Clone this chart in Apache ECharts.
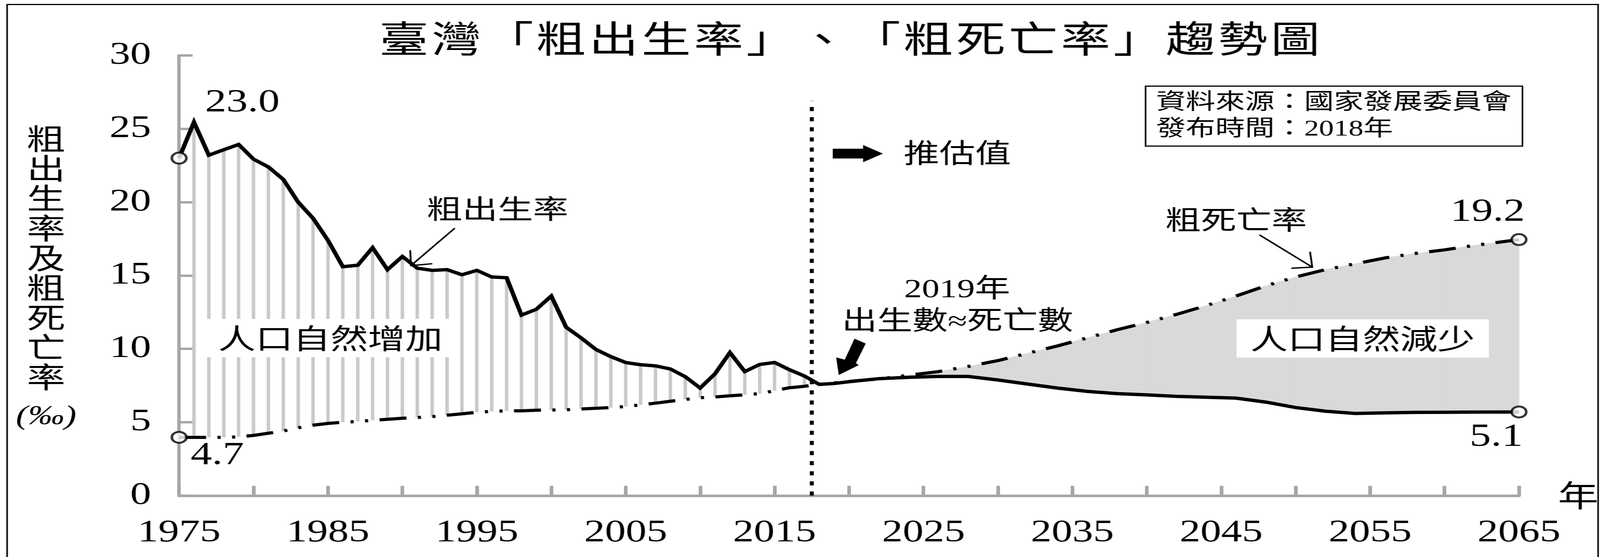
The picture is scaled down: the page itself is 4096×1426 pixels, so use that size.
<!DOCTYPE html>
<html>
<head>
<meta charset="utf-8">
<script src="https://cdn.jsdelivr.net/npm/echarts@6/dist/echarts.min.js"></script>
<style>
html,body{margin:0;padding:0;background:#fff;overflow:hidden;width:4096px;height:1426px;}
#chart{width:3080px;height:1426px;transform:scaleX(1.32987);transform-origin:0 0;}
</style>
</head>
<body>
<div id="chart"></div>
<script>
// ---------- data ----------
const histYears = [1975,1976,1977,1978,1979,1980,1981,1982,1983,1984,1985,1986,1987,1988,1989,1990,1991,1992,1993,1994,1995,1996,1997,1998,1999,2000,2001,2002,2003,2004,2005,2006,2007,2008,2009,2010,2011,2012,2013,2014,2015,2016,2017,2018];
const histBirth = [23.0,25.45,23.2,23.57,23.93,22.93,22.4,21.55,20.0,18.9,17.4,15.6,15.7,16.9,15.4,16.3,15.5,15.35,15.4,15.05,15.35,14.9,14.85,12.3,12.7,13.6,11.47,10.75,9.96,9.47,9.07,8.92,8.84,8.63,8.1,7.33,8.3,9.75,8.45,8.94,9.07,8.58,8.15,7.58];
const histDeath = [3.97,3.97,3.97,3.97,4.0,4.1,4.25,4.4,4.62,4.8,4.92,5.0,5.05,5.13,5.2,5.27,5.32,5.38,5.48,5.57,5.68,5.74,5.77,5.78,5.82,5.83,5.85,5.9,5.95,6.0,6.07,6.18,6.3,6.43,6.55,6.67,6.72,6.8,6.87,6.95,7.15,7.35,7.45,7.58];
const projYears = [2018,2019,2020,2022,2024,2026,2028,2030,2032,2034,2036,2038,2040,2042,2044,2046,2048,2050,2052,2054,2056,2058,2060,2062,2065];
const projBirth = [7.58,7.64,7.76,7.97,8.06,8.12,8.12,7.88,7.6,7.33,7.1,6.95,6.86,6.76,6.7,6.64,6.37,6.0,5.75,5.6,5.64,5.67,5.68,5.69,5.7];
const projDeath = [7.58,7.68,7.78,7.95,8.2,8.45,8.8,9.2,9.7,10.2,10.75,11.3,11.8,12.35,12.95,13.6,14.3,14.9,15.4,15.8,16.2,16.5,16.75,17.05,17.45];
const xLabelYears = [1975,1985,1995,2005,2015,2025,2035,2045,2055,2065];
const yTickValues = [0,5,10,15,20,25,30];
const projBoundaryYear = 2017.5;
const projBoundaryTop = 26.9;
const endLabels = {birthStart:'23.0', deathStart:'4.7', deathEnd:'19.2', birthEnd:'5.1'};
const titleText = '臺灣「粗出生率」、「粗死亡率」趨勢圖';
const yNameChars = ['粗','出','生','率','及','粗','死','亡','率'];

// ---------- layout helpers ----------
const KX = 0.959 / (4096 / 3080);
const KY = 0.959;
const P = (x, y) => [x * KX, y * KY];
const SERIF = '"Liberation Serif", "Noto Sans CJK TC", serif';
const CJK = '"Noto Sans CJK TC", sans-serif';
function txt(t, x, y, size, family, extra) {
  return {type:'text', x:x*KX, y:y*KY, z:20, silent:true,
    style:Object.assign({text:t, fontSize:size, fontFamily:family, fill:'#000', align:'center', verticalAlign:'middle'}, extra || {})};
}
const pts = arr => arr.map(p => P(p[0], p[1]));

// ---------- derived series data ----------
const yearsAll = histYears.concat(projYears.slice(1));
const birthAll = histBirth.concat(projBirth.slice(1));
const deathAll = histDeath.concat(projDeath.slice(1));
const stripeData = histYears.slice(1, -1).map((y, i) => [y, histDeath[i + 1], histBirth[i + 1]]);
const areaData = projYears.slice(0, -1).map((y, i) => [y, projBirth[i], projDeath[i], projYears[i + 1], projBirth[i + 1], projDeath[i + 1]]);
const lastI = yearsAll.length - 1;

const chart = echarts.init(document.getElementById('chart'), null, {renderer:'canvas'});
chart.setOption({
  animation:false,
  backgroundColor:'#fff',
  grid:{left:478*KX, right:3080 - 4062*KX, top:148*KY, bottom:1426 - 1323*KY, containLabel:false},
  xAxis:{
    type:'value', min:1975, max:2065, interval:5,
    name:'年', nameLocation:'end', nameGap:75,
    nameTextStyle:{fontSize:78, fontFamily:CJK, color:'#000', verticalAlign:'middle', align:'left'},
    axisLine:{show:true, lineStyle:{color:'#a6a6a6', width:6.5}},
    axisTick:{show:true, inside:true, length:25, lineStyle:{color:'#a6a6a6', width:7}},
    splitLine:{show:false},
    axisLabel:{margin:56, fontSize:80, fontFamily:SERIF, color:'#000', showMinLabel:true, showMaxLabel:true,
      formatter:v => xLabelYears.indexOf(v) >= 0 ? String(v) : ''}
  },
  yAxis:{
    type:'value', min:0, max:30, interval:5,
    axisLine:{show:true, lineStyle:{color:'#a6a6a6', width:6.5}},
    axisTick:{show:true, inside:true, length:26, lineStyle:{color:'#a6a6a6', width:6}},
    splitLine:{show:false},
    axisLabel:{margin:54, fontSize:80, fontFamily:SERIF, color:'#000',
      formatter:v => yTickValues.indexOf(v) >= 0 ? String(v) : ''}
  },
  series:[
    {type:'custom', data:stripeData, encode:{x:0, y:[1,2]}, silent:true, z:1, clip:false,
      renderItem:(params, api) => {
        const x = api.value(0);
        const lo = api.coord([x, api.value(1)]);
        const hi = api.coord([x, api.value(2)]);
        const w = 6.6;
        return {type:'rect', shape:{x:lo[0] - w/2, y:hi[1], width:w, height:lo[1] - hi[1]}, style:{fill:'#c9c9c9'}};
      }},
    {type:'custom', data:areaData, encode:{x:[0,3], y:[1,2,4,5]}, silent:true, z:1, clip:false,
      renderItem:(params, api) => {
        const x0 = api.value(0), b0 = api.value(1), d0 = Math.max(api.value(2), b0);
        const x1 = api.value(3), b1 = api.value(4), d1 = Math.max(api.value(5), b1);
        return {type:'polygon', shape:{points:[api.coord([x0,b0]), api.coord([x1,b1]), api.coord([x1,d1]), api.coord([x0,d0])]},
          style:{fill:'#d9d9d9', stroke:'#d9d9d9', lineWidth:1.2}};
      }},
    {type:'line', data:[[projBoundaryYear,0],[projBoundaryYear,projBoundaryTop]], symbol:'none', silent:true, z:2,
      lineStyle:{color:'#000', width:7.7, type:[10.5,15.4], cap:'butt'}},
    {type:'line', data:yearsAll.map((y,i)=>[y, deathAll[i]]), symbol:'none', silent:true, z:3, clip:false,
      lineStyle:{color:'#000', width:8, type:[52,22,6,22,6,22], cap:'butt'}},
    {type:'line', data:yearsAll.map((y,i)=>[y, birthAll[i]]), symbol:'none', silent:true, z:4, clip:false,
      lineStyle:{color:'#000', width:8.5, join:'miter'}},
    {type:'scatter', data:[[yearsAll[0], birthAll[0]],[yearsAll[0], deathAll[0]],[yearsAll[lastI], birthAll[lastI]],[yearsAll[lastI], deathAll[lastI]]],
      symbol:'circle', symbolSize:28, silent:true, z:5, clip:false,
      itemStyle:{color:'#fff', borderColor:'#000', borderWidth:5}}
  ],
  graphic:[
    {type:'rect', silent:true, z:0, shape:{x:19*KX, y:12*KY, width:(4266-19)*KX, height:1500}, style:{fill:'rgba(0,0,0,0)', stroke:'#000', lineWidth:3}},
    txt(titleText.split('').join('\u200A'), 2268, 103, 95, CJK),
    txt(yNameChars.join('\n'), 123, 688, 74, CJK, {lineHeight:76.3}),
    txt('(‰)', 123, 1113, 70, SERIF, {fontStyle:'italic'}),
    {type:'rect', silent:true, z:20, shape:{x:3058*KX, y:230*KY, width:1006*KX, height:160*KY}, style:{fill:'#fff', stroke:'#000', lineWidth:3}},
    txt('資料來源：國家發展委員會', 3086, 275, 57, SERIF, {align:'left'}),
    txt('發布時間：2018年', 3086, 346, 57, SERIF, {align:'left'}),
    {type:'polygon', silent:true, z:20, shape:{points:pts([[2223,397],[2304,397],[2304,387],[2357,410],[2304,433],[2304,423],[2223,423]])}, style:{fill:'#000'}},
    txt('推估值', 2555.5, 408, 69, CJK),
    txt('粗出生率', 1328.5, 557, 68, CJK),
    {type:'polyline', silent:true, z:20, shape:{points:pts([[1214,609],[1097,709]])}, style:{stroke:'#000', lineWidth:3.5, fill:null}},
    {type:'polyline', silent:true, z:20, shape:{points:pts([[1095,668],[1097,709],[1154,704]])}, style:{stroke:'#000', lineWidth:3.5, fill:null}},
    txt('粗死亡率', 3300, 586, 68, CJK),
    {type:'polyline', silent:true, z:20, shape:{points:pts([[3362,627],[3503,713]])}, style:{stroke:'#000', lineWidth:3.5, fill:null}},
    {type:'polyline', silent:true, z:20, shape:{points:pts([[3497,672],[3503,713],[3447,716]])}, style:{stroke:'#000', lineWidth:3.5, fill:null}},
    txt('2019年', 2555, 775, 68, SERIF),
    txt('出生數≈死亡數', 2556, 861, 68, SERIF),
    {type:'polygon', silent:true, z:20, shape:{points:pts([[2281,904],[2311,917],[2285,969],[2292,975],[2239,1001],[2232,954],[2255,960]])}, style:{fill:'#000'}},
    txt('人口自然增加', 882, 902.5, 72, CJK, {backgroundColor:'#fff', padding:[13,27]}),
    txt('人口自然減少', 3637.5, 903.5, 72, CJK, {backgroundColor:'#fff', padding:[13,27]}),
    txt(endLabels.birthStart, 647, 275, 82, SERIF),
    txt(endLabels.deathStart, 580, 1216, 82, SERIF),
    txt(endLabels.deathEnd, 3971, 567, 82, SERIF),
    txt(endLabels.birthEnd, 3994, 1167, 82, SERIF)
  ]
});
</script>
</body>
</html>
